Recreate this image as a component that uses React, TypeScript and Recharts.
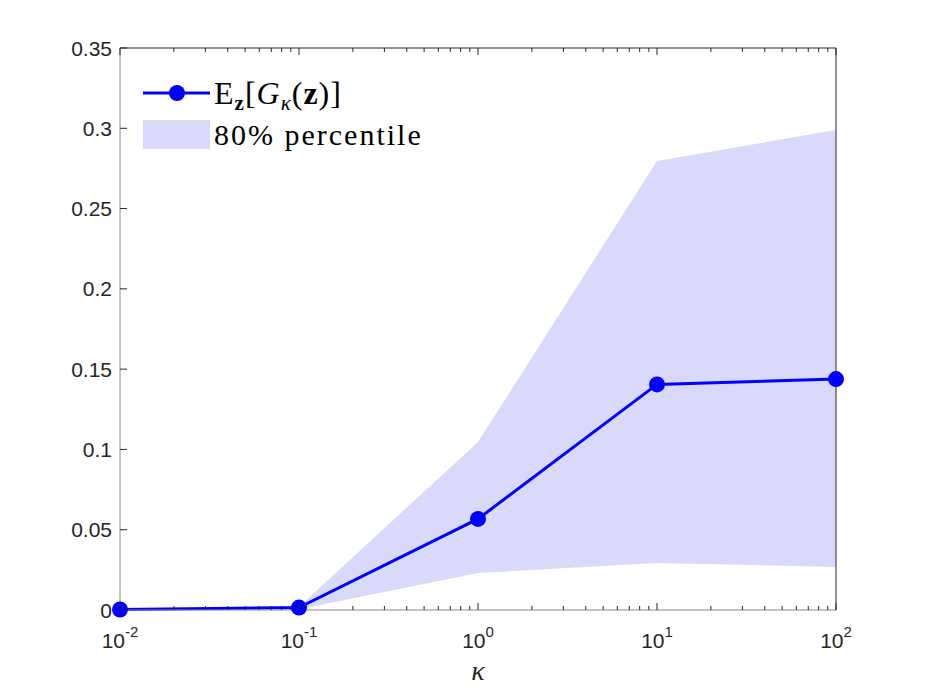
import React from "react";
import {
  ComposedChart,
  Area,
  Line,
  XAxis,
  YAxis,
  Legend,
  Label,
} from "recharts";

// kappa sweep (log axis) and the curve / percentile band
const kappa = [0.01, 0.1, 1, 10, 100];
const meanG = [0.0003, 0.0015, 0.0567, 0.1405, 0.1438];
const lowerP = [0, 0.0005, 0.023, 0.0293, 0.0268];
const upperP = [0.0003, 0.002, 0.1046, 0.2796, 0.2989];

const yTicks = [0, 0.05, 0.1, 0.15, 0.2, 0.25, 0.3, 0.35];
const decades = [0.01, 0.1, 1, 10, 100];
const decadeExp = [-2, -1, 0, 1, 2];
const minorMult = [2, 3, 4, 5, 6, 7, 8, 9];

const BLUE = "#0000ff";
const BAND = "#d9d9fb";
const AXIS = "#262626";
const SANS = "'Liberation Sans', Arial, sans-serif";
const SERIF = "'Liberation Serif', 'Times New Roman', serif";

const chartData = kappa.map((k, i) => ({
  k,
  mean: meanG[i],
  band: [lowerP[i], upperP[i]],
}));

const xTicks: number[] = [];
decades.forEach((d, i) => {
  xTicks.push(d);
  if (i < decades.length - 1) minorMult.forEach((m) => xTicks.push(+(d * m).toPrecision(3)));
});

const isDecade = (v: number) => decades.some((d) => Math.abs(d - v) / d < 1e-6);

const BottomTick = (props: any) => {
  const { x, y, payload } = props;
  const major = isDecade(payload.value);
  const idx = decades.findIndex((d) => Math.abs(d - payload.value) / d < 1e-6);
  return (
    <g>
      <line x1={x} y1={y} x2={x} y2={y - (major ? 7 : 4)} stroke={AXIS} strokeWidth={1} />
      {major && (
        <text x={x} y={y + 38} textAnchor="middle" fontFamily={SANS} fontSize={21} fill={AXIS}>
          10
          <tspan dy={-11} fontSize={15}>
            {decadeExp[idx]}
          </tspan>
        </text>
      )}
    </g>
  );
};

const TopTick = (props: any) => {
  const { x, y, payload } = props;
  const major = isDecade(payload.value);
  return <line x1={x} y1={y} x2={x} y2={y + (major ? 7 : 4)} stroke={AXIS} strokeWidth={1} />;
};

const LeftTick = (props: any) => {
  const { x, y, payload } = props;
  return (
    <g>
      <line x1={x} y1={y} x2={x + 7} y2={y} stroke={AXIS} strokeWidth={1} />
      <text x={x - 8} y={y} dy={7.5} textAnchor="end" fontFamily={SANS} fontSize={21} fill={AXIS}>
        {String(+payload.value.toFixed(2))}
      </text>
    </g>
  );
};

const RightTick = (props: any) => {
  const { x, y } = props;
  return <line x1={x} y1={y} x2={x - 7} y2={y} stroke={AXIS} strokeWidth={1} />;
};

const renderLegend = () => (
  <div style={{ fontFamily: SERIF, color: "#000", lineHeight: 1 }}>
    <div style={{ display: "flex", alignItems: "center", height: 30 }}>
      <svg width={67} height={20} style={{ display: "block" }}>
        <line x1={0} y1={10} x2={67} y2={10} stroke={BLUE} strokeWidth={3} />
        <circle cx={34} cy={10} r={8} fill={BLUE} />
      </svg>
      <span style={{ fontSize: 32, marginLeft: 4, whiteSpace: "nowrap", letterSpacing: 1 }}>
        E
        <span style={{ fontSize: 21, fontWeight: "bold", position: "relative", top: 6 }}>z</span>
        [<i>G</i>
        <span style={{ fontSize: 21, fontStyle: "italic", position: "relative", top: 6 }}>κ</span>
        (<b>z</b>)]
      </span>
    </div>
    <div style={{ display: "flex", alignItems: "center", marginTop: 12, height: 29 }}>
      <div style={{ width: 67, height: 29, background: BAND }} />
      <span style={{ fontSize: 30, marginLeft: 4, letterSpacing: 2, whiteSpace: "nowrap" }}>
        80% percentile
      </span>
    </div>
  </div>
);

export default function App() {
  return (
    <div style={{ width: 918, height: 687, background: "#fff" }}>
      <ComposedChart
        width={918}
        height={687}
        data={chartData}
        margin={{ top: 30, right: 80, left: 52, bottom: 10 }}
      >
        <XAxis
          dataKey="k"
          type="number"
          scale="log"
          domain={[0.01, 100]}
          ticks={xTicks}
          interval={0}
          tickSize={0}
          tickMargin={0}
          height={75}
          axisLine={{ stroke: "#888", strokeWidth: 1 }}
          tickLine={false}
          tick={<BottomTick />}
        >
          <Label
            value="κ"
            position="insideBottom"
            offset={5}
            style={{ fontFamily: SERIF, fontStyle: "italic", fontSize: 28, fill: AXIS }}
          />
        </XAxis>
        <XAxis
          xAxisId="top"
          dataKey="k"
          type="number"
          scale="log"
          domain={[0.01, 100]}
          ticks={xTicks}
          interval={0}
          orientation="top"
          tickSize={0}
          tickMargin={0}
          height={10}
          axisLine={{ stroke: AXIS, strokeWidth: 1 }}
          tickLine={false}
          tick={<TopTick />}
        />
        <YAxis
          type="number"
          domain={[0, 0.35]}
          ticks={yTicks}
          interval={0}
          width={60}
          tickSize={0}
          tickMargin={0}
          axisLine={{ stroke: "#888", strokeWidth: 1 }}
          tickLine={false}
          tick={<LeftTick />}
        />
        <YAxis
          yAxisId="right"
          orientation="right"
          type="number"
          domain={[0, 0.35]}
          ticks={yTicks}
          interval={0}
          width={10}
          tickSize={0}
          tickMargin={0}
          axisLine={{ stroke: AXIS, strokeWidth: 1 }}
          tickLine={false}
          tick={<RightTick />}
        />
        <Legend
          layout="vertical"
          align="center"
          verticalAlign="middle"
          content={renderLegend}
          wrapperStyle={{ left: 135, top: 70, width: "auto", height: "auto" }}
        />
        <Area
          dataKey="band"
          type="linear"
          stroke="none"
          fill={BAND}
          fillOpacity={1}
          isAnimationActive={false}
          activeDot={false}
          legendType="none"
        />
        <Line
          dataKey="mean"
          type="linear"
          stroke={BLUE}
          strokeWidth={3}
          dot={{ r: 8, fill: BLUE, stroke: BLUE, strokeWidth: 0 }}
          activeDot={false}
          isAnimationActive={false}
        />
      </ComposedChart>
    </div>
  );
}
